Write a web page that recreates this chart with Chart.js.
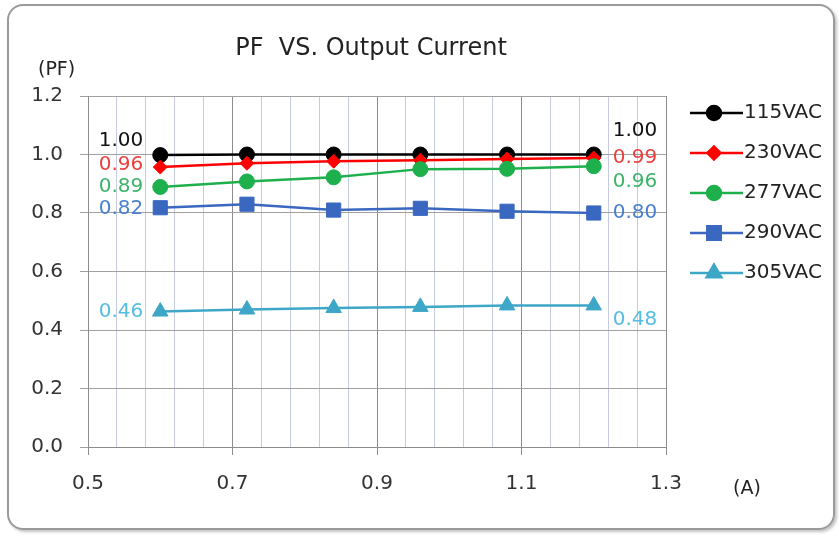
<!DOCTYPE html>
<html>
<head>
<meta charset="utf-8">
<script src="https://cdn.jsdelivr.net/npm/chart.js@4/dist/chart.umd.min.js"></script>
<style>
  html, body { margin: 0; padding: 0; background: #fff; }
  #frame { position: absolute; left: 7px; top: 4px; width: 824px; height: 522px;
           border: 2px solid #9a9a9a; border-radius: 16px; box-shadow: 2px 2px 3px #c4c4c4; }
  #wrap { position: absolute; left: 0; top: 0; width: 839px; height: 538px; }
</style>
</head>
<body>
<div id="frame"></div>
<div id="wrap"><canvas id="c"></canvas></div>
<script>
// output current (A)
const current = [0.6, 0.72, 0.84, 0.96, 1.08, 1.2];
// power factor per input voltage
const pf115 = [0.998, 1.0, 1.0, 1.0, 1.0, 1.0];
const pf230 = [0.957, 0.97, 0.977, 0.98, 0.985, 0.988];
const pf277 = [0.889, 0.908, 0.922, 0.95, 0.951, 0.96];
const pf290 = [0.818, 0.83, 0.81, 0.816, 0.806, 0.80];
const pf305 = [0.463, 0.47, 0.475, 0.479, 0.484, 0.484];
const seriesNames = ["115VAC", "230VAC", "277VAC", "290VAC", "305VAC"];
const yTicks = [0, 0.2, 0.4, 0.6, 0.8, 1.0, 1.2];
const xMajor = [0.5, 0.7, 0.9, 1.1, 1.3];

const FONT = "'DejaVu Sans', sans-serif";

function pts(ys) {
  return current.map((x, i) => ({ x: x, y: ys[i] }));
}

const styles = [
  { color: "#000000", label: "#111111", shape: "circle", r: 7.5, s: -14, e: -24 },
  { color: "#ff0000", label: "#e8413f", shape: "rectRot", r: 7, s: -2, e: 0 },
  { color: "#1db04c", label: "#3db46a", shape: "circle", r: 7.5, s: 0, e: 16 },
  { color: "#3a68c0", label: "#4a80cf", shape: "rect", r: 10, s: 1, e: 0 },
  { color: "#3ea7c8", label: "#55bde0", shape: "triangle", r: 9, s: 0, e: 14 }
];
const allSeries = [pf115, pf230, pf277, pf290, pf305];

const datasets = allSeries.map((ys, i) => ({
  label: seriesNames[i],
  data: pts(ys),
  borderColor: styles[i].color,
  backgroundColor: styles[i].color,
  borderWidth: 2.5,
  pointStyle: styles[i].shape,
  pointRadius: styles[i].r,
  pointBorderWidth: 1,
  tension: 0
})).reverse();

// draws title, axis units, end labels and legend
const extras = {
  id: "extras",
  afterDatasetsDraw(chart) {
    const ctx = chart.ctx;
    ctx.save();
    ctx.textBaseline = "middle";
    // end value labels
    chart.data.datasets.forEach((ds, di) => {
      const idx = seriesNames.indexOf(ds.label);
      const st = styles[idx];
      const meta = chart.getDatasetMeta(di);
      const first = meta.data[0], last = meta.data[meta.data.length - 1];
      ctx.font = "20px " + FONT;
      ctx.fillStyle = st.label;
      ctx.textAlign = "right";
      ctx.fillText(ds.data[0].y.toFixed(2), first.x - 17, first.y + st.s);
      ctx.textAlign = "left";
      ctx.fillText(ds.data[ds.data.length - 1].y.toFixed(2), last.x + 19, last.y + st.e);
    });
    ctx.restore();
  },
  afterDraw(chart) {
    const ctx = chart.ctx;
    ctx.save();
    ctx.textBaseline = "middle";
    ctx.fillStyle = "#222";
    ctx.font = "24px " + FONT;
    ctx.textAlign = "center";
    ctx.fillText("PF  VS. Output Current", 371, 49);
    ctx.font = "19px " + FONT;
    ctx.textAlign = "left";
    ctx.fillText("(PF)", 38, 70);
    ctx.fillText("(A)", 733, 489);
    // legend
    seriesNames.forEach((name, i) => {
      const st = styles[i];
      const y = 113 + i * 40;
      ctx.strokeStyle = st.color;
      ctx.lineWidth = 2.5;
      ctx.beginPath();
      ctx.moveTo(690, y);
      ctx.lineTo(743, y);
      ctx.stroke();
      ctx.fillStyle = st.color;
      Chart.helpers.drawPoint(ctx, { pointStyle: st.shape, radius: st.r - 0.5, rotation: 0, borderWidth: 1 }, 714, y);
      ctx.fill();
      ctx.fillStyle = "#222";
      ctx.font = "20px " + FONT;
      ctx.textAlign = "left";
      ctx.fillText(name, 744, y);
    });
    ctx.restore();
  }
};

const isMajorX = v => Math.round((v - 0.5) * 100) % 20 === 0;

new Chart(document.getElementById("c"), {
  type: "line",
  data: { datasets: datasets },
  options: {
    responsive: true,
    maintainAspectRatio: false,
    animation: false,
    layout: { padding: { left: 0, right: 173, top: 96, bottom: 36 } },
    plugins: { legend: { display: false }, title: { display: false }, tooltip: { enabled: false } },
    scales: {
      x: {
        type: "linear",
        min: 0.5,
        max: 1.3,
        afterBuildTicks: s => {
          const t = [];
          for (let k = 0; k <= 20; k++) t.push({ value: Math.round((0.5 + k * 0.04) * 100) / 100 });
          s.ticks = t;
        },
        afterFit: s => { s.height = 55; },
        border: { color: "#8c8c8c", width: 1 },
        grid: {
          color: c => isMajorX(c.tick.value) ? "#8c8c8c" : "#c6cae2",
          tickColor: c => isMajorX(c.tick.value) ? "#8c8c8c" : "rgba(0,0,0,0)",
          tickLength: 8,
          lineWidth: 1
        },
        ticks: {
          autoSkip: false,
          maxRotation: 0,
          padding: 17,
          color: "#333",
          font: { family: FONT, size: 20 },
          callback: v => xMajor.some(m => Math.abs(m - v) < 1e-6) ? v.toFixed(1) : ""
        }
      },
      y: {
        min: 0,
        max: 1.2,
        afterBuildTicks: s => { s.ticks = yTicks.map(v => ({ value: v })); },
        afterFit: s => { s.width = 88; },
        border: { color: "#8c8c8c", width: 1 },
        grid: { color: "#a0a0a0", tickColor: "#a0a0a0", tickLength: 8 },
        ticks: {
          padding: 17,
          color: "#333",
          font: { family: FONT, size: 20 },
          callback: v => v.toFixed(1)
        }
      }
    }
  },
  plugins: [extras]
});
</script>
</body>
</html>
